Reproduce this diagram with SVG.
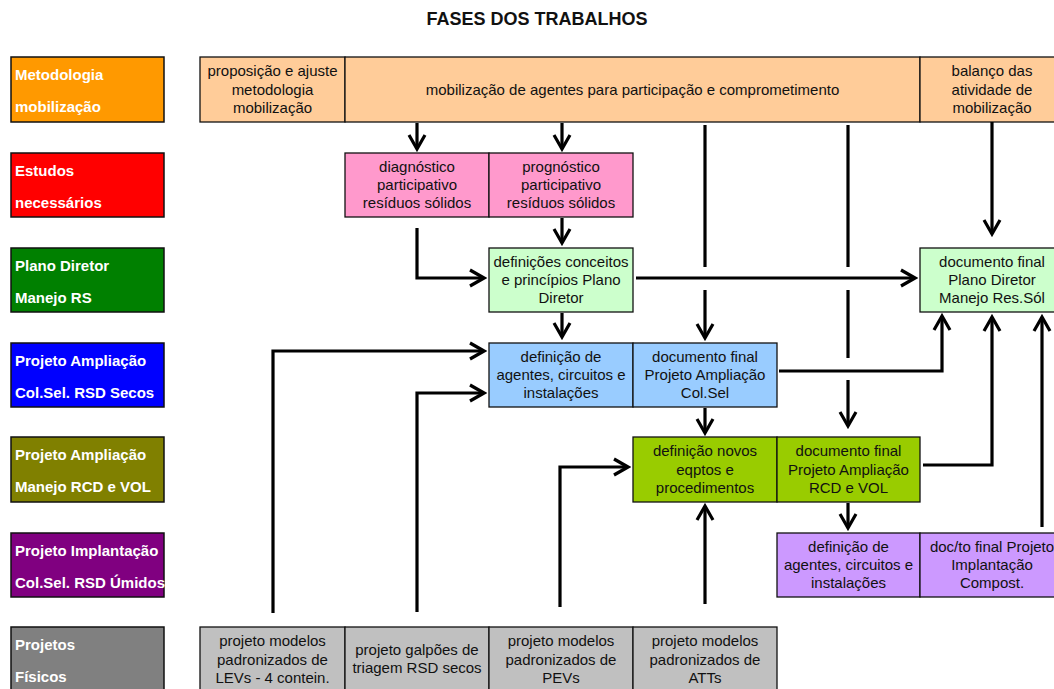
<svg xmlns="http://www.w3.org/2000/svg" width="1054" height="689" viewBox="0 0 1054 689">
<style>
text{font-family:"Liberation Sans",Arial,sans-serif}
.lbl rect{stroke:#111;stroke-width:1.5}
.lbl text{fill:#fff;font-weight:bold;font-size:15px}
.box rect{stroke:#111;stroke-width:1.3}
.box text{fill:#111;font-size:15px;text-anchor:middle}
.c path{fill:none;stroke:#000;stroke-width:3.2}
</style>
<defs>
<marker id="arr" markerUnits="userSpaceOnUse" markerWidth="20" markerHeight="20" viewBox="0 0 20 20" refX="17" refY="10" orient="auto">
<path d="M3,2 L17,10 L3,18" fill="none" stroke="#000" stroke-width="3.2"/>
</marker>
</defs>
<rect width="1054" height="689" fill="#fff"/>
<text x="537" y="25" text-anchor="middle" font-weight="bold" font-size="18" fill="#111">FASES DOS TRABALHOS</text>

<g id="lbl1" class="lbl"><rect x="11" y="57" width="153" height="65" fill="#FF9900"/><text x="15" y="80">Metodologia</text><text x="15" y="112">mobilização</text></g>
<g id="lbl2" class="lbl"><rect x="11" y="153" width="153" height="64" fill="#FF0000"/><text x="15" y="176">Estudos</text><text x="15" y="208">necessários</text></g>
<g id="lbl3" class="lbl"><rect x="11" y="248" width="153" height="64" fill="#008000"/><text x="15" y="271">Plano Diretor</text><text x="15" y="303">Manejo RS</text></g>
<g id="lbl4" class="lbl"><rect x="11" y="343" width="153" height="64" fill="#0000FF"/><text x="15" y="366">Projeto Ampliação</text><text x="15" y="398">Col.Sel. RSD Secos</text></g>
<g id="lbl5" class="lbl"><rect x="11" y="437" width="153" height="65" fill="#808000"/><text x="15" y="460">Projeto Ampliação</text><text x="15" y="492">Manejo RCD e VOL</text></g>
<g id="lbl6" class="lbl"><rect x="11" y="533" width="153" height="64" fill="#800080"/><text x="15" y="556">Projeto Implantação</text><text x="15" y="588">Col.Sel. RSD Úmidos</text></g>
<g id="lbl7" class="lbl"><rect x="11" y="627" width="153" height="70" fill="#808080"/><text x="15" y="650">Projetos</text><text x="15" y="682">Físicos</text></g>

<g id="top1" class="box"><rect x="200" y="57" width="145" height="65" fill="#FFCC99"/><text x="272.5" y="76">proposição e ajuste</text><text x="272.5" y="95">metodologia</text><text x="272.5" y="113">mobilização</text></g>
<g id="top2" class="box"><rect x="345" y="57" width="575" height="65" fill="#FFCC99"/><text x="632.5" y="95">mobilização de agentes para participação e comprometimento</text></g>
<g id="top3" class="box"><rect x="920" y="57" width="144" height="65" fill="#FFCC99"/><text x="992" y="76">balanço das</text><text x="992" y="95">atividade de</text><text x="992" y="113">mobilização</text></g>

<g id="diag" class="box"><rect x="345" y="153" width="144" height="64" fill="#FF99CC"/><text x="417" y="172">diagnóstico</text><text x="417" y="190">participativo</text><text x="417" y="208">resíduos sólidos</text></g>
<g id="prog" class="box"><rect x="489" y="153" width="144" height="64" fill="#FF99CC"/><text x="561" y="172">prognóstico</text><text x="561" y="190">participativo</text><text x="561" y="208">resíduos sólidos</text></g>

<g id="defpd" class="box"><rect x="489" y="248" width="144" height="64" fill="#CCFFCC"/><text x="561" y="267">definições conceitos</text><text x="561" y="285">e princípios Plano</text><text x="561" y="303">Diretor</text></g>
<g id="docpd" class="box"><rect x="920" y="248" width="144" height="64" fill="#CCFFCC"/><text x="992" y="267">documento final</text><text x="992" y="285">Plano Diretor</text><text x="992" y="303">Manejo Res.Sól</text></g>

<g id="defsec" class="box"><rect x="489" y="343" width="144" height="64" fill="#99CCFF"/><text x="561" y="362">definição de</text><text x="561" y="380">agentes, circuitos e</text><text x="561" y="398">instalações</text></g>
<g id="docsec" class="box"><rect x="633" y="343" width="144" height="64" fill="#99CCFF"/><text x="705" y="362">documento final</text><text x="705" y="380">Projeto Ampliação</text><text x="705" y="398">Col.Sel</text></g>

<g id="defrcd" class="box"><rect x="633" y="437" width="144" height="65" fill="#99CC00"/><text x="705" y="456">definição novos</text><text x="705" y="475">eqptos e</text><text x="705" y="493">procedimentos</text></g>
<g id="docrcd" class="box"><rect x="777" y="437" width="143" height="65" fill="#99CC00"/><text x="848.5" y="456">documento final</text><text x="848.5" y="475">Projeto Ampliação</text><text x="848.5" y="493">RCD e VOL</text></g>

<g id="defum" class="box"><rect x="777" y="533" width="143" height="64" fill="#CC99FF"/><text x="848.5" y="552">definição de</text><text x="848.5" y="570">agentes, circuitos e</text><text x="848.5" y="588">instalações</text></g>
<g id="docum" class="box"><rect x="920" y="533" width="144" height="64" fill="#CC99FF"/><text x="992" y="552">doc/to final Projeto</text><text x="992" y="570">Implantação</text><text x="992" y="588">Compost.</text></g>

<g id="lev" class="box"><rect x="200" y="627" width="145" height="70" fill="#C0C0C0"/><text x="272.5" y="646">projeto modelos</text><text x="272.5" y="665">padronizados de</text><text x="272.5" y="683">LEVs - 4 contein.</text></g>
<g id="galp" class="box"><rect x="345" y="627" width="144" height="70" fill="#C0C0C0"/><text x="417" y="655">projeto galpões de</text><text x="417" y="673">triagem RSD secos</text></g>
<g id="pev" class="box"><rect x="489" y="627" width="144" height="70" fill="#C0C0C0"/><text x="561" y="646">projeto modelos</text><text x="561" y="665">padronizados de</text><text x="561" y="683">PEVs</text></g>
<g id="att" class="box"><rect x="633" y="627" width="144" height="70" fill="#C0C0C0"/><text x="705" y="646">projeto modelos</text><text x="705" y="665">padronizados de</text><text x="705" y="683">ATTs</text></g>

<g id="connectors" class="c">
<path d="M417,123 V149" marker-end="url(#arr)"/>
<path d="M562,123 V149" marker-end="url(#arr)"/>
<path d="M705,125 V267"/>
<path d="M705,290 V338" marker-end="url(#arr)"/>
<path d="M848,125 V267"/>
<path d="M848,290 V358"/>
<path d="M848,380 V426" marker-end="url(#arr)"/>
<path d="M992,122 V234" marker-end="url(#arr)"/>
<path d="M417,228 V278 H484" marker-end="url(#arr)"/>
<path d="M562,218 V243" marker-end="url(#arr)"/>
<path d="M636,278 H915" marker-end="url(#arr)"/>
<path d="M562,313 V337" marker-end="url(#arr)"/>
<path d="M273,613 V351 H484" marker-end="url(#arr)"/>
<path d="M417,612 V393 H484" marker-end="url(#arr)"/>
<path d="M779,371 H942 V316" marker-end="url(#arr)"/>
<path d="M705,408 V433" marker-end="url(#arr)"/>
<path d="M923,465 H992 V317" marker-end="url(#arr)"/>
<path d="M1042,527 V317" marker-end="url(#arr)"/>
<path d="M560,607 V467 H628" marker-end="url(#arr)"/>
<path d="M705,604 V506" marker-end="url(#arr)"/>
<path d="M848,503 V528" marker-end="url(#arr)"/>
</g>
</svg>
